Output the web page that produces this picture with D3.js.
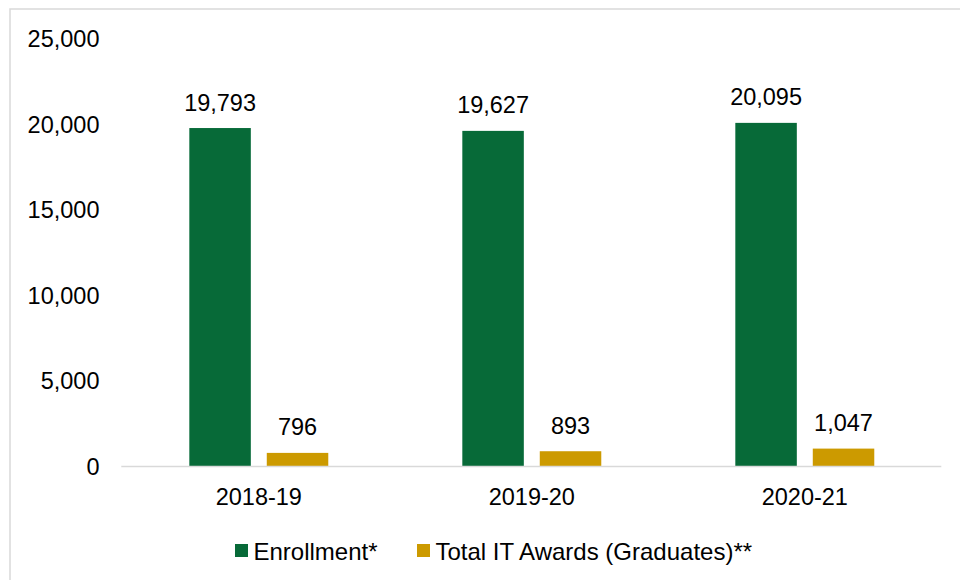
<!DOCTYPE html>
<html>
<head>
<meta charset="utf-8">
<script src="https://cdn.jsdelivr.net/npm/d3@7"></script>
<style>
  html, body { margin: 0; padding: 0; background: #fff; }
  svg { display: block; font-family: "Liberation Sans", Arial, sans-serif; }
</style>
</head>
<body>
<svg id="chart" width="960" height="580"></svg>
<script>
const categories = ["2018-19", "2019-20", "2020-21"];
const seriesNames = ["Enrollment*", "Total IT Awards (Graduates)**"];
const enrollment = [19793, 19627, 20095];
const awards = [796, 893, 1047];
const yTicks = [0, 5000, 10000, 15000, 20000, 25000];
const colors = ["#076A38", "#CC9A00"];

const seriesValues = [enrollment, awards];
const svg = d3.select("#chart");
const W = 960, H = 580;
const plot = { left: 122.3, right: 941.3, top: 39, bottom: 466.5 };

// outer border
svg.append("rect")
  .attr("x", 10).attr("y", 9)
  .attr("width", 1000).attr("height", 700)
  .attr("fill", "#fff").attr("stroke", "#D9D9D9").attr("stroke-width", 1.5);

const y = d3.scaleLinear().domain([0, 25000]).range([plot.bottom, plot.top]);
const x0 = d3.scaleBand().domain(categories).range([plot.left, plot.right])
  .paddingInner(0.491).paddingOuter(0.2455);
const x1 = d3.scaleBand().domain(seriesNames).range([0, x0.bandwidth()])
  .paddingInner(0.206).paddingOuter(0);

// y axis labels
const yAxis = d3.axisLeft(y).tickValues(yTicks).tickSize(0).tickPadding(0)
  .tickFormat(d3.format(","));
const gy = svg.append("g").attr("transform", "translate(99.5,0)").call(yAxis);
gy.select(".domain").remove();
gy.selectAll("text").attr("font-size", "23.5px").attr("fill", "#000")
  .attr("font-family", "'Liberation Sans', Arial, sans-serif");

// bars
const data = categories.map((c, i) => ({
  cat: c,
  vals: seriesNames.map((s, j) => ({ s, j, v: seriesValues[j][i] }))
}));
const groups = svg.append("g").selectAll("g").data(data).join("g")
  .attr("transform", d => `translate(${x0(d.cat)},0)`);
groups.selectAll("rect").data(d => d.vals).join("rect")
  .attr("x", d => x1(d.s))
  .attr("width", x1.bandwidth())
  .attr("y", d => y(d.v))
  .attr("height", d => y(0) - y(d.v))
  .attr("fill", d => colors[d.j]);
groups.selectAll("text.val").data(d => d.vals).join("text")
  .attr("class", "val")
  .attr("x", d => x1(d.s) + x1.bandwidth() / 2)
  .attr("y", d => y(d.v) - 17.5)
  .attr("text-anchor", "middle")
  .attr("font-size", "23.5px")
  .attr("fill", "#000")
  .text(d => d3.format(",")(d.v));

// baseline
svg.append("line")
  .attr("x1", plot.left - 1).attr("x2", plot.right)
  .attr("y1", y(0)).attr("y2", y(0))
  .attr("stroke", "#D9D9D9").attr("stroke-width", 1.5);

// x axis labels
const xAxis = d3.axisBottom(x0).tickSize(0).tickPadding(0);
const gx = svg.append("g").attr("transform", `translate(0,${y(0)})`).call(xAxis);
gx.select(".domain").remove();
gx.selectAll("text").attr("dy", null).attr("y", 38)
  .attr("font-size", "23.5px").attr("fill", "#000")
  .attr("font-family", "'Liberation Sans', Arial, sans-serif");

// legend
const legendX = [235, 417];
const lg = svg.append("g").selectAll("g").data(seriesNames).join("g")
  .attr("transform", (d, i) => `translate(${legendX[i]},544)`);
lg.append("rect").attr("width", 13).attr("height", 13).attr("fill", (d, i) => colors[i]);
lg.append("text").attr("x", 18.5).attr("y", 15.5)
  .attr("font-size", "24px").attr("fill", "#000").text(d => d);
</script>
</body>
</html>
